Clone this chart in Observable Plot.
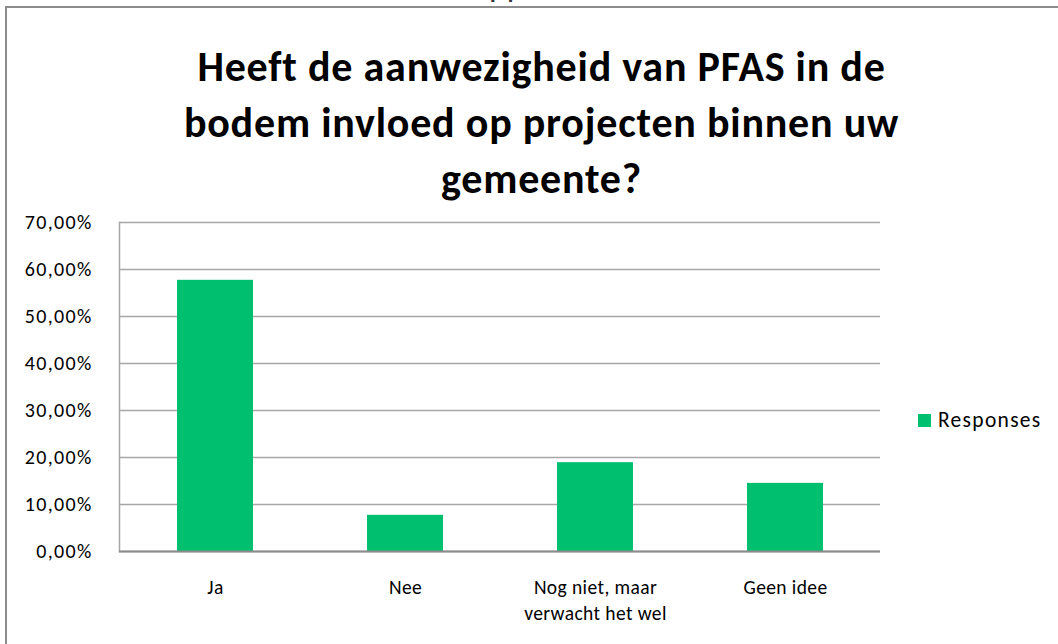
<!DOCTYPE html>
<html>
<head>
<meta charset="utf-8">
<script src="https://cdn.jsdelivr.net/npm/d3@7"></script>
<script src="https://cdn.jsdelivr.net/npm/@observablehq/plot@0.6"></script>
<style>
  html, body { margin:0; padding:0; background:#fff; }
  body { width:1058px; height:644px; position:relative; overflow:hidden; font-family: Carlito, Calibri, Lato, sans-serif; }
  #border { position:absolute; left:5px; top:6px; width:1100px; height:700px; border-left:2px solid #8c8c8c; border-top:2px solid #8c8c8c; box-sizing:border-box; }
  #frag { position:absolute; left:489px; top:-36px; font-size:34px; color:#333; }
  #title { position:absolute; left:0; width:1083px; top:39px; text-align:center; font-weight:700; font-size:42px; letter-spacing:0.8px; line-height:56px; color:#000; }
  #chart { position:absolute; left:0; top:200px; }
  #legend { position:absolute; left:918px; top:407px; font-size:21.5px; letter-spacing:1.3px; color:#000; display:flex; align-items:center; }
  #legend .sw { width:13px; height:13px; background:#00BF6F; margin-right:7px; }
  #chart g[aria-label="y-axis tick label"] text { letter-spacing:1.3px; }
  #chart g[aria-label="x-axis tick label"] text { letter-spacing:0.4px; }
</style>
</head>
<body>
<div id="frag">pp</div>
<div id="border"></div>
<div id="title"></div>
<div id="chart"></div>
<div id="legend"><div class="sw"></div><span id="legtext"></span></div>
<script>
const titleLines = ["Heeft de aanwezigheid van PFAS in de", "bodem invloed op projecten binnen uw", "gemeente?"];
const categories = ["Ja", "Nee", "Nog niet, maar\nverwacht het wel", "Geen idee"];
const values = [0.577, 0.077, 0.189, 0.145];
const yTicks = [0, 0.1, 0.2, 0.3, 0.4, 0.5, 0.6, 0.7];
const seriesName = "Responses";
const barColor = "#00BF6F";

document.getElementById("title").innerHTML = titleLines.join("<br>");
document.getElementById("legtext").textContent = seriesName;

const data = categories.map((c, i) => ({cat: c, value: values[i]}));
const fmt = d => (d * 100).toFixed(2).replace(".", ",") + "%";

const chart = Plot.plot({
  width: 1058,
  height: 444,
  marginTop: 22,
  marginBottom: 93,
  marginLeft: 119,
  marginRight: 178,
  style: {fontFamily: "Carlito, Calibri, Lato, sans-serif", fontSize: "19.5px", color: "#000", background: "transparent", overflow: "visible"},
  x: {domain: categories, paddingInner: 0.6, paddingOuter: 0.3, label: null},
  y: {domain: [0, 0.7], label: null},
  marks: [
    Plot.gridY(yTicks, {stroke: "#a6a6a6", strokeOpacity: 1, strokeWidth: 1.5}),
    Plot.frame({anchor: "left", stroke: "#a6a6a6", strokeWidth: 1.5}),
    Plot.barY(data, {x: "cat", y: "value", fill: barColor}),
    Plot.ruleY([0], {stroke: "#8c8c8c", strokeWidth: 2}),
    Plot.axisY(yTicks, {tickSize: 0, tickPadding: 27, tickFormat: fmt, fill: "#000", fontSize: 20, label: null}),
    Plot.axisX({tickSize: 0, tickPadding: 24, lineHeight: 1.33, fill: "#000", label: null})
  ]
});
document.getElementById("chart").appendChild(chart);
</script>
</body>
</html>
